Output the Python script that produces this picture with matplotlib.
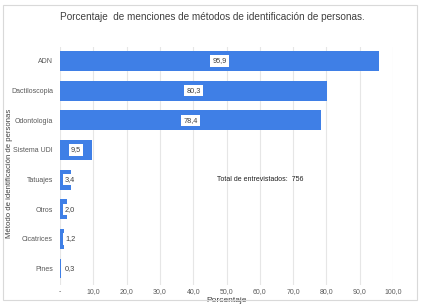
import matplotlib.pyplot as plt
from matplotlib.patches import Rectangle
from matplotlib.ticker import FuncFormatter

# datos
metodos = ['ADN', 'Dactiloscopia', 'Odontología', 'Sistema UDI', 'Tatuajes', 'Otros', 'Cicatrices', 'Pines']
porcentajes = [95.9, 80.3, 78.4, 9.5, 3.4, 2.0, 1.2, 0.3]
ticks_x = [0, 10, 20, 30, 40, 50, 60, 70, 80, 90, 100]

plt.rcParams['font.family'] = ['Liberation Sans', 'DejaVu Sans']

fig = plt.figure(figsize=(4.29, 3.05), dpi=100)
ax = fig.add_axes([0.14, 0.066, 0.776, 0.78])

# marco exterior
fig.patches.append(Rectangle((0.007, 0.016), 0.966, 0.968, transform=fig.transFigure,
                             fill=False, edgecolor='#d9d9d9', linewidth=0.8))

pos = list(range(len(metodos)))
ax.barh(pos, porcentajes, height=0.67, color='#3f7fe6', zorder=2)

# etiquetas de valor
for p, v in zip(pos, porcentajes):
    xt = max(v / 2, 3.0)
    ax.text(xt, p, f'{v:.1f}'.replace('.', ','), ha='center', va='center', fontsize=5.3,
            color='#404040', zorder=3,
            bbox=dict(boxstyle='square,pad=0.3', facecolor='white', edgecolor='none'))

ax.text(47, 4, 'Total de entrevistados:  756', ha='left', va='center', fontsize=5, color='#202020')

ax.set_yticks(pos)
ax.set_yticklabels(metodos)
ax.set_ylim(7.55, -0.47)
ax.set_xlim(0, 100)
ax.set_xticks(ticks_x)
ax.xaxis.set_major_formatter(FuncFormatter(lambda x, _: '-' if x == 0 else f'{x:.1f}'.replace('.', ',')))
ax.tick_params(axis='both', length=0, labelsize=5, labelcolor='#595959')
ax.tick_params(axis='x', pad=2.5)
ax.tick_params(axis='y', pad=5)
ax.grid(axis='x', color='#e6e6e6', linewidth=0.8, zorder=0)
ax.set_axisbelow(True)
for s in ax.spines.values():
    s.set_visible(False)

ax.set_xlabel('Porcentaje', fontsize=6, color='#404040')
ax.xaxis.set_label_coords(0.5, -0.05)
ax.set_ylabel('Método de identificación de personas', fontsize=5.6, color='#404040')
ax.yaxis.set_label_coords(-0.14, 0.47)

fig.text(0.495, 0.945, 'Porcentaje  de menciones de métodos de identificación de personas.',
         ha='center', va='center', fontsize=7.2, color='#404040')

fig.savefig('out.png', dpi=100)
